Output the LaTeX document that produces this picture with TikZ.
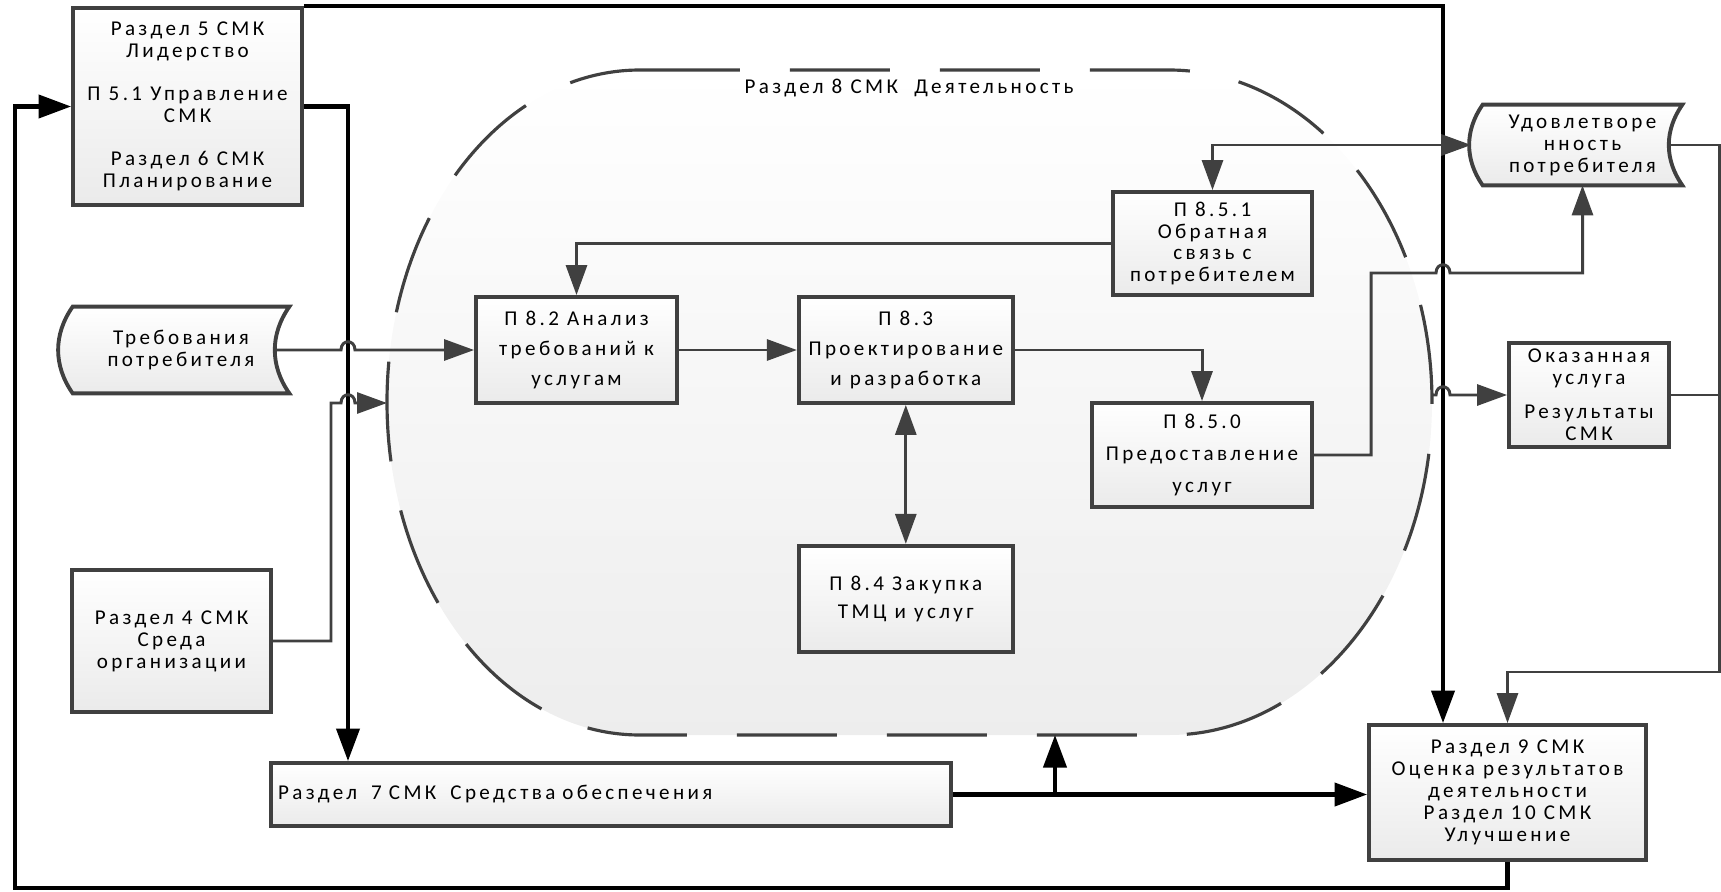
\documentclass[tikz,border=0pt]{standalone}
\usepackage{fontspec}
\setmainfont{Carlito}[LetterSpace=16]
\usetikzlibrary{arrows.meta,positioning,backgrounds}
\definecolor{smkgray}{RGB}{64,64,64}
\tikzset{
  smk box/.style={
    rectangle, draw=smkgray, line width=2.2pt,
    top color=white, bottom color=black!8, align=center,
    inner sep=2pt, font=\fontsize{12}{12.5}\selectfont
  },
  smk data/.style={
    rectangle, align=center, inner sep=2pt,
    font=\fontsize{12}{12.5}\selectfont
  },
  data outline/.style={draw=smkgray, line width=2.2pt, top color=white, bottom color=black!8},
  activity area/.style={draw=smkgray, line width=1.8pt, dash pattern=on 2cm off 1cm,
    top color=white, bottom color=black!7},
  flow line/.style={line width=1.7pt, smkgray},
  flow arrow/.style={flow line, -{Triangle[length=0.6cm,width=0.42cm]}},
  flow twoway/.style={flow line, {Triangle[length=0.6cm,width=0.42cm]}-{Triangle[length=0.6cm,width=0.42cm]}},
  main line/.style={line width=2.3pt, black},
  main arrow/.style={main line, -{Triangle[length=0.65cm,width=0.46cm]}}
}
\begin{document}
\begin{tikzpicture}[x=0.02cm, y=-0.02cm]
  \useasboundingbox (0,0) rectangle (1721,892);
  % Раздел 8 -- область деятельности
  \path[activity area] (640,70) -- (1169,70)
    .. controls (1314,70) and (1432,219) .. (1432,402)
    .. controls (1432,586) and (1314,735) .. (1169,735) -- (640,735)
    .. controls (500,735) and (387,586) .. (387,402)
    .. controls (387,219) and (500,70) .. (640,70) -- cycle;
  \node[font=\fontsize{12}{12.5}\selectfont] (activity label) at (909,88) {Раздел 8 СМК\ \ Деятельность};
  \coordinate (activity west) at (387,403);
  \coordinate (activity east) at (1432,395);
  \coordinate (activity south) at (1055,735);
  \coordinate (left bus) at (348,107);
  \coordinate (right bus) at (1443,9);
  \coordinate (loop corner) at (15,888);
  \coordinate (outer bus) at (1719,672);

  \node[smk box, minimum width=4.58cm, minimum height=3.94cm] (leadership) at (187.5,106.5)
    {Раздел 5 СМК\\Лидерство\\[12pt]П 5.1 Управление\\СМК\\[12pt]Раздел 6 СМК\\Планирование};
  \node[smk data, minimum width=4.32cm, minimum height=1.72cm] (requirements) at (181,350)
    {Требования\\потребителя};
  \node[smk box, minimum width=3.98cm, minimum height=2.84cm] (environment) at (171.5,641)
    {Раздел 4 СМК\\Среда\\организации};
  \node[smk box, minimum width=4.02cm, minimum height=2.12cm] (analysis) at (576.5,350)
    {П 8.2 Анализ\\[4.5pt]требований к\\[4.5pt]услугам};
  \node[smk box, minimum width=4.28cm, minimum height=2.12cm, right=2.36cm of analysis] (design)
    {П 8.3\\[4.5pt]Проектирование\\[4.5pt]и разработка};
  \node[smk box, minimum width=4.28cm, minimum height=2.12cm, below=2.78cm of design] (purchasing)
    {П 8.4 Закупка\\[3.5pt]ТМЦ и услуг};
  \node[smk box, minimum width=3.98cm, minimum height=2.06cm] (feedback) at (1212.5,243.5)
    {П 8.5.1\\Обратная\\связь с\\потребителем};
  \node[smk box, minimum width=4.4cm, minimum height=2.08cm] (delivery) at (1202,455)
    {П 8.5.0\\[5.5pt]Предоставление\\[5.5pt]услуг};
  \node[smk data, minimum width=3.98cm, minimum height=1.6cm] (satisfaction) at (1582.5,145)
    {Удовлетворе\\нность\\потребителя};
  \node[smk box, minimum width=3.2cm, minimum height=2.08cm] (service) at (1589,395)
    {Оказанная\\услуга\\[7pt]Результаты\\СМК};
  \node[smk box, minimum width=13.6cm, minimum height=1.26cm, text width=13.32cm,
    inner xsep=4pt, align=left] (resources) at (611,794.5)
    {Раздел\ \ 7 СМК\ \ Средства обеспечения};
  \node[smk box, minimum width=5.54cm, minimum height=2.7cm] (evaluation) at (1507.5,792.5)
    {Раздел 9 СМК\\Оценка результатов\\деятельности\\Раздел 10 СМК\\Улучшение};

  \begin{scope}[on background layer]
    \path[data outline] (requirements.north west) to[bend right=35] (requirements.south west)
      -- (requirements.south east) to[bend left=35] (requirements.north east) -- cycle;
    \path[data outline] (satisfaction.north west) to[bend right=35] (satisfaction.south west)
      -- (satisfaction.south east) to[bend left=35] (satisfaction.north east) -- cycle;
  \end{scope}

  % контур управления
  \draw[main arrow] (leadership.north east) -| (right bus |- evaluation.north);
  \draw[main arrow] (leadership.east) -| (left bus |- resources.north);
  \draw[main arrow] (evaluation.south) |- (loop corner) |- (leadership.west);
  \draw[main arrow] (resources.east) -- (resources.east -| evaluation.west);
  \draw[main arrow] (resources.east -| activity south) -- (activity south);

  % потоки
  \draw[flow arrow] ([xshift=-0.27cm]requirements.east) -- (341,350)
    .. controls (341,339) and (355,339) .. (355,350) -- (analysis.west);
  \draw[flow arrow] (environment.east) -- (331,641) -- (331,403) -- (341,403)
    .. controls (341,392) and (355,392) .. (355,403) -- (activity west);
  \draw[flow arrow] (analysis) -- (design);
  \draw[flow twoway] (design) -- (purchasing);
  \draw[flow arrow] (design.east) -| (delivery.north);
  \draw[flow arrow] (feedback.west) -| (analysis.north);
  \draw[flow twoway] (feedback.north) |- ([xshift=-0.23cm]satisfaction.west);
  \draw[flow arrow] (delivery.east) -- (1371,455) -- (1371,273) -- (1436,273)
    .. controls (1436,262) and (1450,262) .. (1450,273) -| (satisfaction.south);
  \draw[flow arrow] (activity east) -- (1436,395)
    .. controls (1436,384) and (1450,384) .. (1450,395) -- (service.west);
  \draw[flow line] (service.east) -- (service.east -| outer bus);
  \draw[flow arrow] ([xshift=-0.28cm]satisfaction.east) -| (outer bus) -| (evaluation.north);
\end{tikzpicture}
\end{document}
